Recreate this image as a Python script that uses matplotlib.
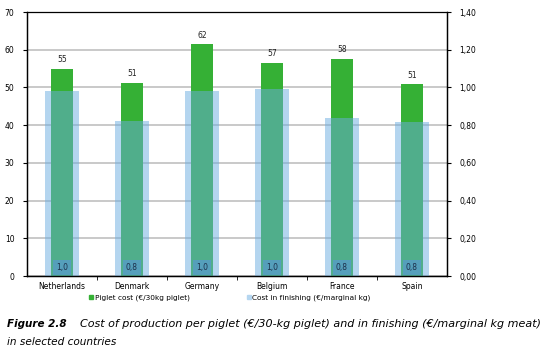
import numpy as np
import matplotlib
matplotlib.use("Agg")
import matplotlib.pyplot as plt
from matplotlib.lines import Line2D
from matplotlib.ticker import FuncFormatter

# datos
paises = ["Netherlands", "Denmark", "Germany", "Belgium", "France", "Spain"]
coste_lechon = [55.0, 51.2, 61.5, 56.6, 57.6, 50.8]        # €/30kg piglet (eje izq)
etiqueta_lechon = ["55", "51", "62", "57", "58", "51"]
coste_engorde = [0.98, 0.82, 0.98, 0.99, 0.84, 0.815]     # €/marginal kg (eje der)
etiqueta_engorde = ["1,0", "0,8", "1,0", "1,0", "0,8", "0,8"]

verde = "#35b035"
azul = "#6badE1"

fig = plt.figure(figsize=(5.54, 3.53), dpi=100)
ax = fig.add_axes([0.0487, 0.218, 0.758, 0.748])
ax2 = ax.twinx()

x = np.arange(len(paises))
ax.bar(x, coste_lechon, width=0.31, color=verde, zorder=2)
for i, v in enumerate(coste_lechon):
    ax.text(x[i], v + 1.2, etiqueta_lechon[i], ha="center", va="bottom",
            fontsize=5.5, color="#222222")

ax2.bar(x, coste_engorde, width=0.49, color=azul, alpha=0.5, zorder=2)
for i, v in enumerate(coste_engorde):
    ax2.text(x[i], 0.045, etiqueta_engorde[i], ha="center", va="center",
             fontsize=5.5, color="#1c2f4a", zorder=5,
             bbox=dict(boxstyle="square,pad=0.35", fc="#559fbb", ec="none"))

ax.set_xlim(-0.5, 5.5)
ax.set_ylim(0, 70)
ax2.set_ylim(0, 1.4)
ax.set_yticks(np.arange(0, 71, 10))
ax2.set_yticks(np.arange(0, 1.41, 0.2))
ax2.yaxis.set_major_formatter(FuncFormatter(lambda v, p: f"{v:.2f}".replace(".", ",")))

ax.set_xticks(x)
ax.set_xticklabels(paises)
ax.set_xticks(np.arange(0.5, 5.5, 1), minor=True)
ax.tick_params(axis="x", which="major", length=0, labelsize=5.5, pad=4)
ax.tick_params(axis="x", which="minor", length=3, direction="out")
ax.tick_params(axis="y", length=3, labelsize=5.5, pad=6)
ax2.tick_params(axis="y", length=3, labelsize=5.5, pad=6)

ax.grid(axis="y", color="#c0c0c0", linewidth=1.2, zorder=0)
ax.set_axisbelow(True)
for a in (ax, ax2):
    for s in a.spines.values():
        s.set_linewidth(0.9)
        s.set_color("black")
ax.spines["top"].set_linewidth(0.7)

h = [Line2D([], [], marker="s", ls="", color=verde, markersize=3),
     Line2D([], [], marker="s", ls="", color="#b5d6f0", markersize=3)]
fig.legend(h, ["Piglet cost (€/30kg piglet)", "Cost in finishing (€/marginal kg)"],
           ncol=2, loc="center", bbox_to_anchor=(0.414, 0.157), frameon=False,
           fontsize=5.3, handletextpad=0.1, columnspacing=7.6, handlelength=0.8)

fig.text(0.013, 0.075, "Figure 2.8", fontsize=7.5, fontweight="bold", style="italic")
fig.text(0.144, 0.075, "Cost of production per piglet (€/30-kg piglet) and in finishing (€/marginal kg meat)",
         fontsize=8.0, style="italic")
fig.text(0.013, 0.022, "in selected countries", fontsize=7.6, style="italic")

fig.savefig("out.png", dpi=100)
